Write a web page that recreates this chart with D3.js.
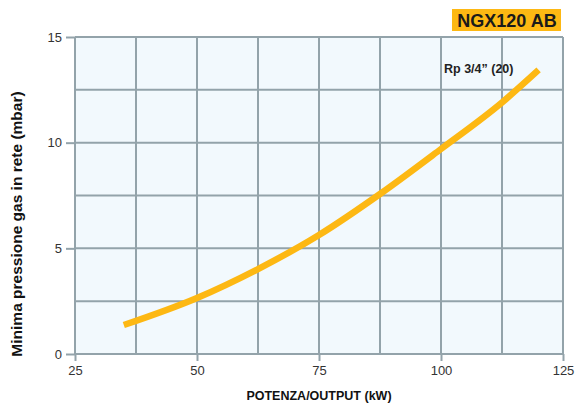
<!DOCTYPE html>
<html><head><meta charset="utf-8">
<script src="https://cdn.jsdelivr.net/npm/d3@7"></script>
<style>body{margin:0;background:#fff}svg{display:block}text{font-family:"Liberation Sans",Arial,sans-serif}</style>
</head><body>
<svg id="c" width="575" height="403"></svg>
<script>
const powerKW = [35, 50, 62.5, 75, 87.5, 100, 112.5, 120];
const pressureMbar = [1.37, 2.65, 4.02, 5.63, 7.57, 9.70, 11.9, 13.44];
const xTicks = [25, 50, 75, 100, 125];
const yTicks = [0, 5, 10, 15];
const seriesLabel = "Rp 3/4\u201d (20)";
const modelLabel = "NGX120 AB";

const svg = d3.select("#c");
const x = d3.scaleLinear().domain([25,125]).range([75,563]);
const y = d3.scaleLinear().domain([0,15]).range([354,37]);

svg.append("rect").attr("x",x(25)).attr("y",y(15)).attr("width",x(125)-x(25)).attr("height",y(0)-y(15)).attr("fill","#f2f9fd");

const gridX = d3.range(25,125.1,12.5), gridY = d3.range(0,15.1,2.5);
svg.append("g").selectAll("line").data(gridX).join("line")
  .attr("x1",d=>x(d)).attr("x2",d=>x(d)).attr("y1",y(0)).attr("y2",y(15))
  .attr("stroke","#93a3aa").attr("stroke-width",2);
svg.append("g").selectAll("line").data(gridY).join("line")
  .attr("x1",x(25)).attr("x2",x(125)).attr("y1",d=>y(d)).attr("y2",d=>y(d))
  .attr("stroke","#93a3aa").attr("stroke-width",2);

const xa = svg.append("g").attr("transform",`translate(0,${y(0)})`)
  .call(d3.axisBottom(x).tickValues(xTicks).tickSize(7).tickPadding(5));
const ya = svg.append("g").attr("transform",`translate(${x(25)},0)`)
  .call(d3.axisLeft(y).tickValues(yTicks).tickSize(9).tickPadding(4));
[xa,ya].forEach(a=>{
  a.select(".domain").remove();
  a.selectAll(".tick line").attr("stroke","#93a3aa").attr("stroke-width",2);
  a.selectAll(".tick text").attr("fill","#333").attr("font-size",13);
});

const line = d3.line().x((d,i)=>x(powerKW[i])).y(d=>y(d)).curve(d3.curveMonotoneX);
svg.append("path").datum(pressureMbar).attr("d",line)
  .attr("fill","none").attr("stroke","#fdb813").attr("stroke-width",6.5);

svg.append("text").attr("x",444).attr("y",73).attr("font-size",12.5).attr("font-weight","bold").attr("fill","#222").text(seriesLabel);

svg.append("rect").attr("x",452).attr("y",9).attr("width",109).attr("height",22).attr("fill","#fdb813");
svg.append("text").attr("x",507).attr("y",27).attr("text-anchor","middle").attr("font-size",18).attr("font-weight","bold").attr("fill","#1a1a1a").text(modelLabel);

svg.append("text").attr("transform","translate(22,224) rotate(-90)").attr("text-anchor","middle")
  .attr("font-size",15.5).attr("font-weight","bold").attr("fill","#111").text("Minima pressione gas in rete (mbar)");
svg.append("text").attr("x",319).attr("y",400).attr("text-anchor","middle")
  .attr("font-size",12.5).attr("font-weight","bold").attr("fill","#111").text("POTENZA/OUTPUT (kW)");
</script>
</body></html>
